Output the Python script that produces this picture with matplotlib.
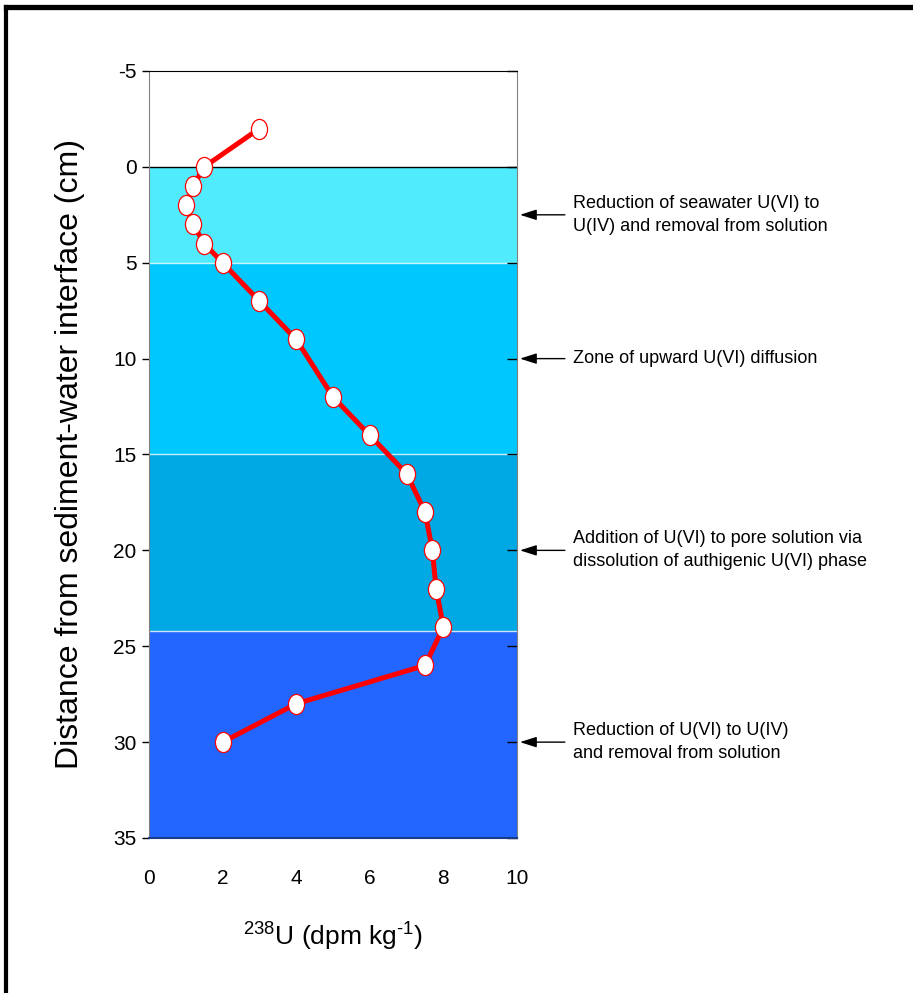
"""
238U profile in pore sediments with redox zones and process annotations.
"""

import numpy as np
import matplotlib
matplotlib.use("Agg")
import matplotlib.pyplot as plt
from matplotlib.path import Path
from matplotlib.lines import Line2D
from matplotlib.markers import TICKLEFT
from matplotlib.transforms import Affine2D

plt.rcParams["font.family"] = ["Liberation Sans", "DejaVu Sans"]
plt.rcParams["axes.unicode_minus"] = False

# ── data ──────────────────────────────────────────────────────────────
depth_cm = [-2, 0, 1, 2, 3, 4, 5, 7, 9, 12, 14, 16, 18, 20, 22, 24, 26, 28, 30]
u238_dpm = [3.0, 1.5, 1.2, 1.0, 1.2, 1.5, 2.0, 3.0, 4.0, 5.0, 6.0, 7.0,
            7.5, 7.7, 7.8, 8.0, 7.5, 4.0, 2.0]

zone_edges = [0, 5, 15, 24.2, 35]
zone_colors = ["#50ECFE", "#00C8FF", "#00A8E4", "#2266FF"]

note_depths = [2.5, 10, 20, 30]
note_texts = [
    "Reduction of seawater U(VI) to\nU(IV) and removal from solution",
    "Zone of upward U(VI) diffusion",
    "Addition of U(VI) to pore solution via\ndissolution of authigenic U(VI) phase",
    "Reduction of U(VI) to U(IV)\nand removal from solution",
]

y_ticks = [-5, 0, 5, 10, 15, 20, 25, 30, 35]
x_ticks = [0, 2, 4, 6, 8, 10]

# ── figure ────────────────────────────────────────────────────────────
fig = plt.figure(figsize=(9.13, 9.93), dpi=100)
ax = fig.add_axes([0.1632, 0.1561, 0.4031, 0.7724])

for top, bot, col in zip(zone_edges[:-1], zone_edges[1:], zone_colors):
    ax.axhspan(top, bot, color=col, lw=0, zorder=0)
for edge in zone_edges[1:-1]:
    ax.axhline(edge, color="white", lw=1, alpha=0.8, zorder=1)
ax.axhline(0, color="black", lw=1, zorder=1)

# slightly tall elliptical marker
oval = Path.unit_circle().transformed(Affine2D().scale(0.8, 1.0))
ax.plot(u238_dpm, depth_cm, color="#FF0000", lw=3.6, zorder=3,
        marker=oval, markersize=14.5, markerfacecolor="white",
        markeredgecolor="#FF0000", markeredgewidth=0.9)

ax.set_xlim(0, 10)
ax.set_ylim(35, -5)
ax.set_xticks(x_ticks)
ax.set_yticks(y_ticks)
ax.tick_params(axis="x", length=0, pad=22, labelsize=15)
ax.tick_params(axis="y", direction="out", length=5, width=1, pad=4,
               labelsize=15, right=True)
# right-hand ticks point inward
for t in ax.yaxis.get_major_ticks():
    t.tick2line.set_marker(TICKLEFT)
    t.tick2line.set_markersize(7)

for side in ("left", "right"):
    ax.spines[side].set_color("#808080")
ax.spines["top"].set_color("black")
ax.spines["bottom"].set_color("#1a3a8c")
ax.spines["bottom"].set_linewidth(1.5)

# U+2010 hyphen so the exponent shows a short dash like the original
ax.set_xlabel("$^{\\mathregular{238}}$U (dpm kg$^{\\mathregular{\u2010" "1}}$)",
              fontsize=19, labelpad=23)
ax.set_ylabel("Distance from sediment-water interface (cm)",
              fontsize=23, labelpad=20)

for yd, txt in zip(note_depths, note_texts):
    ax.annotate("", xy=(10.08, yd), xytext=(11.3, yd),
                arrowprops=dict(arrowstyle="-|>,head_length=1.0,head_width=0.32",
                                color="black", lw=1, shrinkA=0, shrinkB=0,
                                fc="black"),
                annotation_clip=False)
    ax.text(11.52, yd, txt, fontsize=13, va="center", ha="left",
            linespacing=1.45, clip_on=False)

# heavy frame on the top and left edge of the figure
fig.add_artist(Line2D([0.0071, 1.0], [0.9930, 0.9930], color="black",
                      lw=3.8, transform=fig.transFigure))
fig.add_artist(Line2D([0.0071, 0.0071], [0.9930, 0.0], color="black",
                      lw=3.0, transform=fig.transFigure))

fig.savefig("out.png", dpi=100)
